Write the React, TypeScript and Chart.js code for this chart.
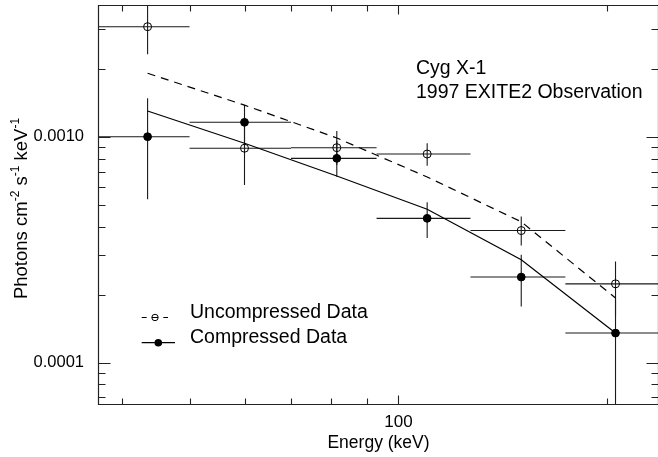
import React, { useEffect, useRef } from 'react';
import { Chart, registerables } from 'chart.js';

Chart.register(...registerables);

const FONT = "'Liberation Sans', Arial, Helvetica, sans-serif";

// ---- data (energy in keV, flux in photons cm^-2 s^-1 keV^-1) ----
const energy = [43.5, 60, 81.5, 110, 150.3, 205.5];
const binLow = [35, 50, 70, 93, 127, 174];
const binHigh = [50, 70, 93, 127, 174, 245];

const uncompFlux = [0.00307, 0.000889, 0.000894, 0.000838, 0.000384, 0.000223];
const uncompLow = [0.00232, 0.000611, 0.00075, 0.000744, 0.00033, 0.00016];
const uncompHigh = [0.0045, 0.00118, 0.00106, 0.000935, 0.000443, 0.00028];

const compFlux = [0.001, 0.001158, 0.000802, 0.000435, 0.000239, 0.000135];
const compLow = [0.000528, 0.00087, 0.000665, 0.000356, 0.000177, 0.00005];
const compHigh = [0.00148, 0.00138, 0.00096, 0.000513, 0.0003, 0.00019];

const uncompModel = [0.00191, 0.00138, 0.000987, 0.000663, 0.00042, 0.000193];
const compModel = [0.0013, 0.000935, 0.00067, 0.000477, 0.000285, 0.000135];

// ---- axes ----
const xMin = 36.9;
const xMax = 237.4;
const yMin = 0.0000655;
const yMax = 0.00383;

const xTickValues = [100];
const xTickLabels = ['100'];
const xMinorTicks = [40, 50, 60, 70, 80, 90, 200];
const yTickValues = [0.0001, 0.001];
const yTickLabels = ['0.0001', '0.0010'];
const yMinorTicks = [
  0.00007, 0.00008, 0.00009, 0.0002, 0.0003, 0.0004, 0.0005, 0.0006, 0.0007,
  0.0008, 0.0009, 0.002, 0.003,
];

const xTitle = 'Energy (keV)';
const yTitleParts = [
  { t: 'Photons cm', sup: false },
  { t: '-2', sup: true },
  { t: ' s', sup: false },
  { t: '-1', sup: true },
  { t: ' keV', sup: false },
  { t: '-1', sup: true },
];
const annotationLines = ['Cyg X-1', '1997 EXITE2 Observation'];
const legendLabels = ['Uncompressed Data', 'Compressed Data'];

const drawPlugin = {
  id: 'exiteDraw',
  beforeDatasetsDraw(chart: any) {
    const { ctx, chartArea: a, scales } = chart;
    const x = scales.x;
    const y = scales.y;
    ctx.save();
    ctx.beginPath();
    ctx.rect(a.left, a.top, a.right - a.left, a.bottom - a.top);
    ctx.clip();
    ctx.strokeStyle = '#1a1a1a';
    ctx.lineWidth = 1.1;
    const bars = (flux: number[], lo: number[], hi: number[]) => {
      energy.forEach((e, i) => {
        const px = x.getPixelForValue(e);
        const py = y.getPixelForValue(flux[i]);
        ctx.beginPath();
        ctx.moveTo(x.getPixelForValue(binLow[i]), py);
        ctx.lineTo(x.getPixelForValue(binHigh[i]), py);
        ctx.moveTo(px, y.getPixelForValue(hi[i]));
        ctx.lineTo(px, y.getPixelForValue(lo[i]));
        ctx.stroke();
      });
    };
    bars(uncompFlux, uncompLow, uncompHigh);
    bars(compFlux, compLow, compHigh);
    ctx.restore();
  },
  afterDraw(chart: any) {
    const { ctx, chartArea: a, scales } = chart;
    const x = scales.x;
    const y = scales.y;
    ctx.save();
    // frame
    ctx.strokeStyle = '#222';
    ctx.lineWidth = 1.2;
    const L = a.left + 0.5;
    const R = a.right - 0.5;
    const T = a.top + 0.5;
    const B = a.bottom + 0.5;
    ctx.beginPath();
    ctx.moveTo(L, T);
    ctx.lineTo(R, T);
    ctx.lineTo(R, B);
    ctx.lineTo(L, B);
    ctx.closePath();
    ctx.stroke();
    // ticks
    ctx.lineWidth = 1.1;
    ctx.beginPath();
    const yTick = (v: number, len: number) => {
      const py = Math.round(y.getPixelForValue(v)) + 0.5;
      ctx.moveTo(L, py);
      ctx.lineTo(L + len, py);
      ctx.moveTo(R, py);
      ctx.lineTo(R - len, py);
    };
    const xTick = (v: number, len: number) => {
      const px = Math.round(x.getPixelForValue(v)) + 0.5;
      ctx.moveTo(px, B);
      ctx.lineTo(px, B - len);
      ctx.moveTo(px, T);
      ctx.lineTo(px, T + len);
    };
    yTickValues.forEach((v) => yTick(v, 12));
    yMinorTicks.forEach((v) => yTick(v, 7));
    xTickValues.forEach((v) => xTick(v, 9));
    xMinorTicks.forEach((v) => xTick(v, 6));
    ctx.stroke();

    ctx.fillStyle = '#000';
    // x title
    ctx.font = `17.5px ${FONT}`;
    ctx.textAlign = 'center';
    ctx.textBaseline = 'alphabetic';
    ctx.fillText(xTitle, (a.left + a.right) / 2, 447.7);

    // y title with superscripts
    ctx.save();
    ctx.translate(27, 208.5);
    ctx.rotate(-Math.PI / 2);
    ctx.textAlign = 'left';
    const mainFont = `18.5px ${FONT}`;
    const supFont = `12px ${FONT}`;
    let total = 0;
    const widths = yTitleParts.map((p) => {
      ctx.font = p.sup ? supFont : mainFont;
      const w = ctx.measureText(p.t).width;
      total += w;
      return w;
    });
    let cx = -total / 2;
    yTitleParts.forEach((p, i) => {
      ctx.font = p.sup ? supFont : mainFont;
      ctx.fillText(p.t, cx, p.sup ? -8.5 : 0);
      cx += widths[i];
    });
    ctx.restore();

    // annotation
    ctx.font = `19.5px ${FONT}`;
    ctx.textAlign = 'left';
    ctx.fillText(annotationLines[0], 416, 74);
    ctx.fillText(annotationLines[1], 416, 98.3);

    // legend
    ctx.strokeStyle = '#000';
    ctx.lineWidth = 1.2;
    const ly1 = 317.5;
    ctx.beginPath();
    ctx.moveTo(141.7, ly1);
    ctx.lineTo(146.7, ly1);
    ctx.moveTo(152, ly1);
    ctx.lineTo(158, ly1);
    ctx.moveTo(163.3, ly1);
    ctx.lineTo(168, ly1);
    ctx.stroke();
    ctx.beginPath();
    ctx.lineWidth = 1;
    ctx.arc(155, ly1, 3.2, 0, Math.PI * 2);
    ctx.stroke();
    const ly2 = 342.7;
    ctx.lineWidth = 1.2;
    ctx.beginPath();
    ctx.moveTo(141.7, ly2);
    ctx.lineTo(175, ly2);
    ctx.stroke();
    ctx.beginPath();
    ctx.arc(158.3, ly2, 3.8, 0, Math.PI * 2);
    ctx.fill();
    ctx.font = `19.5px ${FONT}`;
    ctx.fillText(legendLabels[0], 190, 318.3);
    ctx.fillText(legendLabels[1], 190, 343.3);
    ctx.restore();
  },
};

export default function App() {
  const ref = useRef<HTMLCanvasElement | null>(null);
  useEffect(() => {
    const canvas = ref.current;
    if (!canvas) return;
    const pts = (vals: number[]) => energy.map((e, i) => ({ x: e, y: vals[i] }));
    const chart = new Chart(canvas, {
      type: 'scatter',
      data: {
        datasets: [
          {
            label: 'Uncompressed model',
            data: pts(uncompModel),
            showLine: true,
            borderColor: '#000',
            borderWidth: 1.2,
            borderDash: [8, 6],
            pointRadius: 0,
            fill: false,
          },
          {
            label: 'Compressed model',
            data: pts(compModel),
            showLine: true,
            borderColor: '#000',
            borderWidth: 1.2,
            pointRadius: 0,
            fill: false,
          },
          {
            label: legendLabels[0],
            data: pts(uncompFlux),
            pointStyle: 'circle',
            pointRadius: 4,
            borderColor: '#000',
            backgroundColor: 'rgba(0,0,0,0)',
            borderWidth: 1,
          },
          {
            label: legendLabels[1],
            data: pts(compFlux),
            pointStyle: 'circle',
            pointRadius: 3.9,
            borderColor: '#000',
            backgroundColor: '#000',
            borderWidth: 1,
          },
        ],
      },
      options: {
        animation: false,
        responsive: false,
        maintainAspectRatio: false,
        layout: { padding: { top: 5, right: 2, left: 0, bottom: 0 } },
        plugins: { legend: { display: false }, tooltip: { enabled: false } },
        scales: {
          x: {
            type: 'logarithmic',
            position: 'bottom',
            min: xMin,
            max: xMax,
            grid: { display: false },
            border: { display: false },
            ticks: {
              color: '#000',
              font: { family: FONT, size: 17 },
              padding: 0,
              autoSkip: false,
              maxRotation: 0,
              callback: (_v: any, i: number) => xTickLabels[i],
            },
            afterBuildTicks: (s: any) => {
              s.ticks = xTickValues.map((v) => ({ value: v }));
            },
            afterFit: (s: any) => {
              s.height = 53;
              s.paddingLeft = 0;
              s.paddingRight = 0;
            },
          },
          y: {
            type: 'logarithmic',
            position: 'left',
            min: yMin,
            max: yMax,
            grid: { display: false },
            border: { display: false },
            ticks: {
              color: '#000',
              font: { family: FONT, size: 16.5 },
              padding: 6,
              autoSkip: false,
              callback: (_v: any, i: number) => yTickLabels[i],
            },
            afterBuildTicks: (s: any) => {
              s.ticks = yTickValues.map((v) => ({ value: v }));
            },
            afterFit: (s: any) => {
              s.width = 98;
              s.paddingTop = 0;
              s.paddingBottom = 0;
            },
          },
        },
      } as any,
      plugins: [drawPlugin],
    });
    return () => chart.destroy();
  }, []);
  return (
    <div style={{ position: 'fixed', left: 0, top: 0, width: 664, height: 457, background: '#fff' }}>
      <canvas ref={ref} width={664} height={457} style={{ width: 664, height: 457, display: 'block' }} />
    </div>
  );
}
